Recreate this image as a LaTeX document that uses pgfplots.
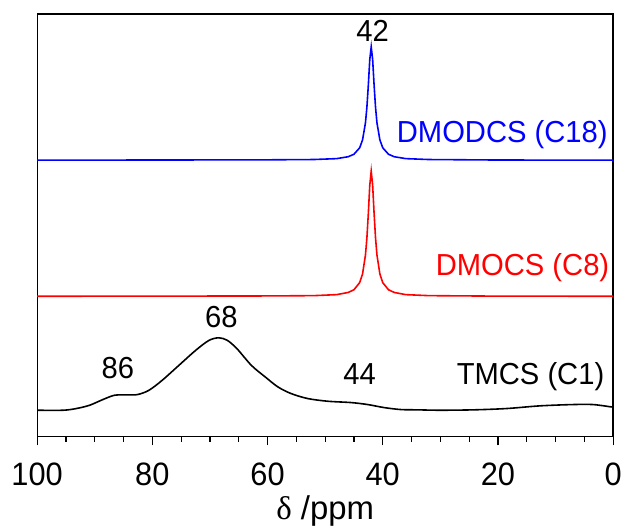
\documentclass[border=0pt]{standalone}
\usepackage{pgfplots}
\pgfplotsset{compat=1.18}
\usepackage{fontspec}
\setmainfont{Liberation Sans}
\newfontfamily\tickfont{Liberation Sans}[FakeStretch=0.95]
\newfontfamily\annfont{Liberation Sans}[FakeStretch=0.96]
\newfontfamily\seriffont{Liberation Serif}
\begin{document}
\begin{tikzpicture}
\begin{axis}[
  name=main,
  scale only axis,
  width=578pt, height=424pt,
  xmin=0, xmax=100, ymin=0, ymax=424,
  x dir=reverse,
  xtick={0,20,40,60,80,100},
  minor x tick num=3,
  xtick pos=bottom,
  ytick=\empty,
  tick align=outside,
  major tick length=9pt,
  minor tick length=5.5pt,
  axis line style={line width=1.3pt},
  every tick/.style={line width=1.2pt, black},
  /pgf/number format/assume math mode=true,
  xticklabel style={font=\tickfont\fontsize{32.5}{32.5}\selectfont, anchor=base, yshift=-40.3pt},
  xlabel={{\seriffont δ} /ppm},
  xlabel style={font=\fontsize{33}{33}\selectfont, at={(axis description cs:0.5,0)}, anchor=base, yshift=-83.7pt},
  clip=false,
]
% TMCS (C1)
\addplot[black, line width=1.6pt, smooth] coordinates {
(100,26.3)(95.5,26.3)(93.2,28)(90.9,31.3)(88.6,37)(86.6,41.3)(84.6,41.7)(82.6,42)(80.6,46.3)(78.3,56.3)(75.4,71.3)(72.5,86.3)(70.2,96.3)(68.5,99)(67,96.5)(65.3,88)(62.8,71.3)(60.4,59.7)(58.2,49.7)(55.9,43)(53,38)(49.5,35.3)(45.5,34)(42.6,32)(39.8,29)(36.9,27)(34,26.7)(30,26.3)(24.2,26.7)(18.5,28)(12.7,30.7)(7,32)(3.5,32)(0.4,29.7)(0,29.5)
};
% DMOCS (C8)
\addplot[red, line width=1.6pt] coordinates {
(100,140.7)(80,140.8)(60,141)(52,141.3)(48,142.3)(46,144.5)(45,147.2)(44,154.4)(43.5,163.2)(43,182)(42.75,199.2)(42.5,223.8)(42.25,252.1)(42,266.3)(41.75,252.1)(41.5,223.8)(41.25,199.2)(41,182)(40.5,163.2)(40,154.4)(39,147.2)(38,144.5)(36,142.3)(32,141.3)(20,140.8)(0,140.7)
};
% DMODCS (C18)
\addplot[blue, line width=1.6pt] coordinates {
(100,277.3)(80,277.4)(60,277.6)(52,277.9)(48,278.8)(46,280.7)(45,283.2)(44,289.7)(43.5,297.7)(43,314.7)(42.75,330.3)(42.5,352.6)(42.25,378.2)(42,391)(41.75,378.2)(41.5,352.6)(41.25,330.3)(41,314.7)(40.5,297.7)(40,289.7)(39,283.2)(38,280.7)(36,278.8)(32,277.9)(20,277.4)(0,277.3)
};
\tikzset{ann/.style={font=\annfont\fontsize{30.5}{30.5}\selectfont, inner sep=0pt}}
\node[ann, anchor=base] at (axis cs:41.75,396.3) {42};
\node[ann, blue, anchor=base east] at (axis cs:0.92,294.7) {DMODCS (C18)};
\node[ann, red, anchor=base east] at (axis cs:0.64,161.3) {DMOCS (C8)};
\node[ann, anchor=base east] at (axis cs:1.5,52) {TMCS (C1)};
\node[ann, anchor=base] at (axis cs:68.0,109) {68};
\node[ann, anchor=base] at (axis cs:86.0,58) {86};
\node[ann, anchor=base] at (axis cs:44.0,52) {44};
\end{axis}
\path[use as bounding box] ([shift={(-37.3pt,-92pt)}]main.south west) rectangle ([shift={(9.5pt,14pt)}]main.north east);
\end{tikzpicture}
\end{document}
